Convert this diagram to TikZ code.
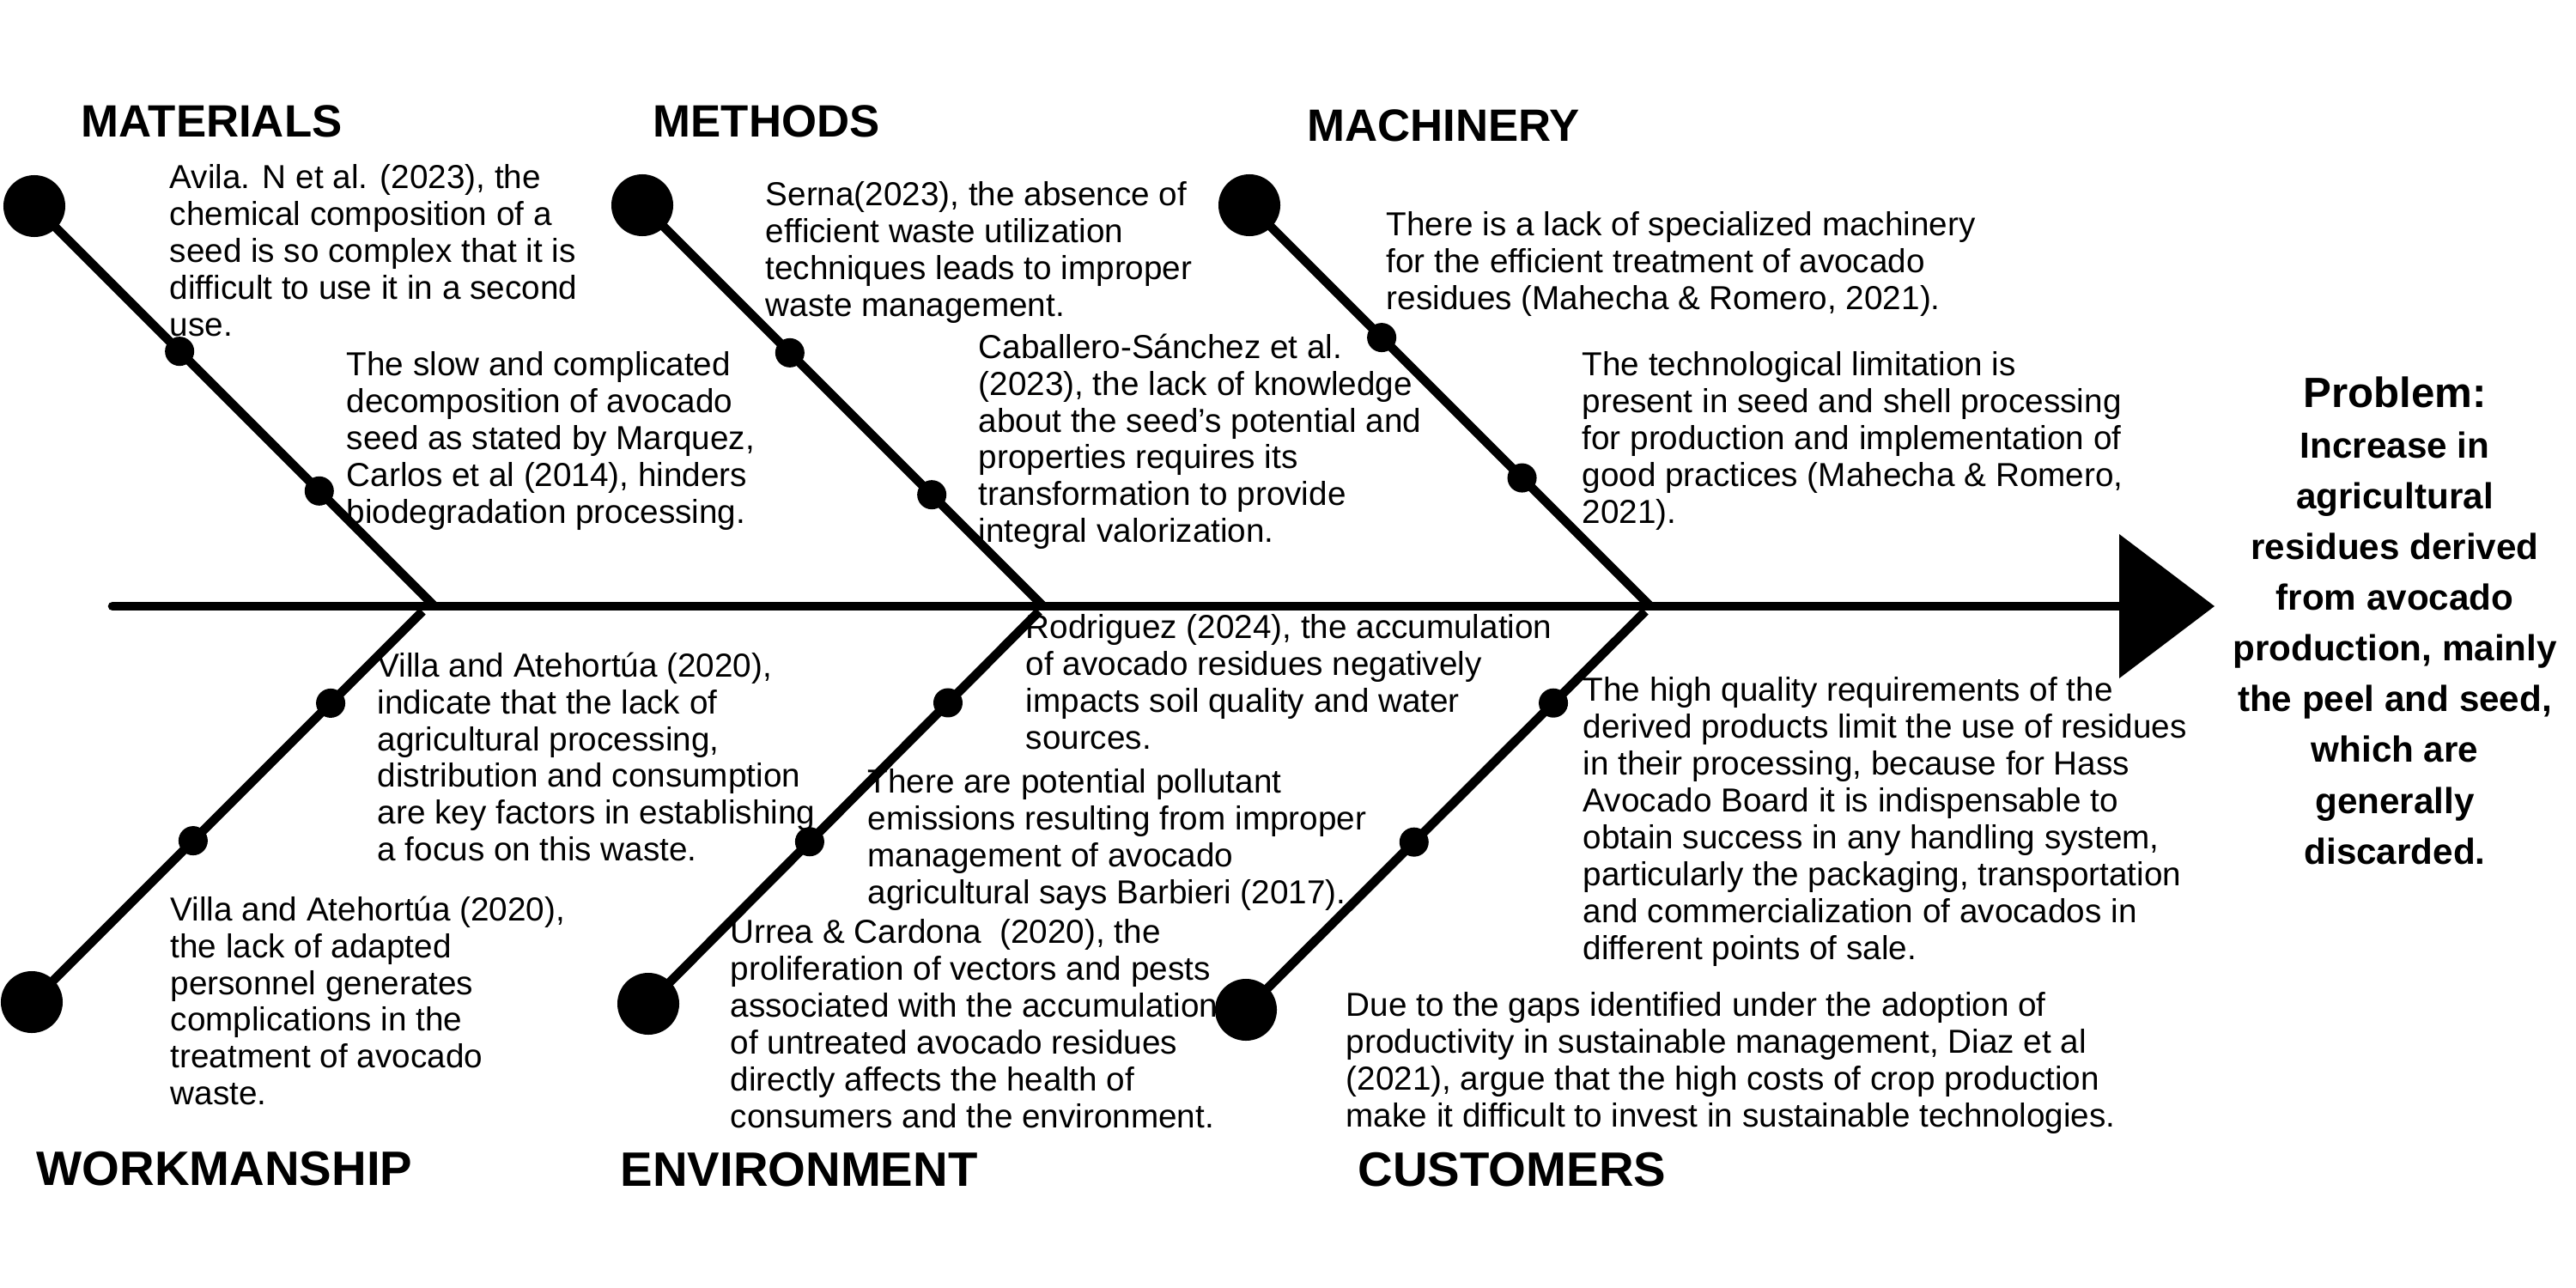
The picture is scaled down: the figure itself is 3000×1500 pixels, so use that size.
\documentclass[tikz,border=0pt]{standalone}
\usepackage{fontspec}
\setmainfont{Liberation Sans}
\begin{document}
\begin{tikzpicture}[x=0.01cm,y=-0.01cm,
  bone/.style={line width=3pt},
  bigdot/.style={circle,fill=black,inner sep=0,minimum size=0.72cm},
  smalldot/.style={circle,fill=black,inner sep=0,minimum size=0.34cm},
  head/.style={anchor=west,inner sep=0,font=\bfseries\fontsize{15}{18}\selectfont},
  headlow/.style={anchor=west,inner sep=0,font=\bfseries\fontsize{16}{19}\selectfont},
  note/.style={anchor=north west,inner sep=0,align=left,font=\fontsize{11}{12.2}\selectfont},
]
\useasboundingbox (0,0) rectangle (3000,1500);

% spine
\coordinate (tail) at (131,706);
\coordinate (spineend) at (2472,706);
\draw[bone,line cap=round] (tail) -- (spineend);
\coordinate (tipA) at (2468,622);
\coordinate (tipB) at (2579,706);
\coordinate (tipC) at (2468,790);
\fill (tipA) -- (tipB) -- (tipC) -- cycle;

% branch coordinates
\coordinate (c1) at (40,240);   \coordinate (j1) at (506,706);
\coordinate (c2) at (748,239);  \coordinate (j2) at (1215,706);
\coordinate (c3) at (1455,239); \coordinate (j3) at (1922,706);
\coordinate (c4) at (37,1167);  \coordinate (j4) at (492,712);
\coordinate (c5) at (755,1169); \coordinate (j5) at (1210,712);
\coordinate (c6) at (1451,1176);\coordinate (j6) at (1916,712);

\draw[bone] (c1) -- (j1) node[smalldot,pos=0.363] (d11) {} node[smalldot,pos=0.712] (d12) {};
\draw[bone] (c2) -- (j2) node[smalldot,pos=0.368] (d21) {} node[smalldot,pos=0.722] (d22) {};
\draw[bone] (c3) -- (j3) node[smalldot,pos=0.33] (d31) {} node[smalldot,pos=0.68] (d32) {};
\draw[bone] (c4) -- (j4) node[smalldot,pos=0.413] (d41) {} node[smalldot,pos=0.765] (d42) {};
\draw[bone] (c5) -- (j5) node[smalldot,pos=0.413] (d51) {} node[smalldot,pos=0.767] (d52) {};
\draw[bone] (c6) -- (j6) node[smalldot,pos=0.421] (d61) {} node[smalldot,pos=0.77] (d62) {};

% headers
\node[head] (hmat) at (94,141) {MATERIALS};
\node[head] (hmet) at (760,141) {METHODS};
\node[head] (hmac) at (1522,146) {MACHINERY};
\node[headlow] (hwor) at (42,1361) {WORKMANSHIP};
\node[headlow] (henv) at (722,1362) {ENVIRONMENT};
\node[headlow] (hcus) at (1581,1362) {CUSTOMERS};

% texts
\node[note] (tavila) at (197,191) {Avila. N et al. (2023), the\\chemical composition of a\\seed is so complex that it is\\difficult to use it in a second\\use.};
\node[note] (tslow) at (403,409) {The slow and complicated\\decomposition of avocado\\seed as stated by Marquez,\\Carlos et al (2014), hinders\\biodegradation processing.};
\node[note] (tserna) at (891,211) {Serna(2023), the absence of\\efficient waste utilization\\techniques leads to improper\\waste management.};
\node[note] (tcab) at (1139,388) {Caballero-Sánchez et al.\\(2023), the lack of knowledge\\about the seed's potential and\\properties requires its\\transformation to provide\\integral valorization.};
\node[note] (tmac1) at (1614,246) {There is a lack of specialized machinery\\for the efficient treatment of avocado\\residues (Mahecha \& Romero, 2021).};
\node[note] (tmac2) at (1842,409) {The technological limitation is\\present in seed and shell processing\\for production and implementation of\\good practices (Mahecha \& Romero,\\2021).};
\node[note] (tvilla1) at (439,759) {Villa and Atehortúa (2020),\\indicate that the lack of\\agricultural processing,\\distribution and consumption\\are key factors in establishing\\a focus on this waste.};
\node[note] (tvilla2) at (198,1043) {Villa and Atehortúa (2020),\\the lack of adapted\\personnel generates\\complications in the\\treatment of avocado\\waste.};
\node[note] (trod) at (1194,715) {Rodriguez (2024), the accumulation\\of avocado residues negatively\\impacts soil quality and water\\sources.};
\node[note] (tpot) at (1010,895) {There are potential pollutant\\emissions resulting from improper\\management of avocado\\agricultural says Barbieri (2017).};
\node[note] (turrea) at (850,1070) {Urrea \& Cardona\ \ (2020), the\\proliferation of vectors and pests\\associated with the accumulation\\of untreated avocado residues\\directly affects the health of\\consumers and the environment.};
\node[note] (thigh) at (1843,788) {The high quality requirements of the\\derived products limit the use of residues\\in their processing, because for Hass\\Avocado Board it is indispensable to\\obtain success in any handling system,\\particularly the packaging, transportation\\and commercialization of avocados in\\different points of sale.};
\node[note] (tdue) at (1567,1155) {Due to the gaps identified under the adoption of\\productivity in sustainable management, Diaz et al\\(2021), argue that the high costs of crop production\\make it difficult to invest in sustainable technologies.};

\node[anchor=north,inner sep=0,align=center,font=\bfseries\fontsize{12}{16.8}\selectfont] (problem) at (2789,438)
  {{\fontsize{14}{16.8}\selectfont Problem:}\\Increase in\\agricultural\\residues derived\\from avocado\\production, mainly\\the peel and seed,\\which are\\generally\\discarded.};

% big circles on top
\node[bigdot] (b1) at (c1) {};
\node[bigdot] (b2) at (c2) {};
\node[bigdot] (b3) at (c3) {};
\node[bigdot] (b4) at (c4) {};
\node[bigdot] (b5) at (c5) {};
\node[bigdot] (b6) at (c6) {};
\end{tikzpicture}
\end{document}
